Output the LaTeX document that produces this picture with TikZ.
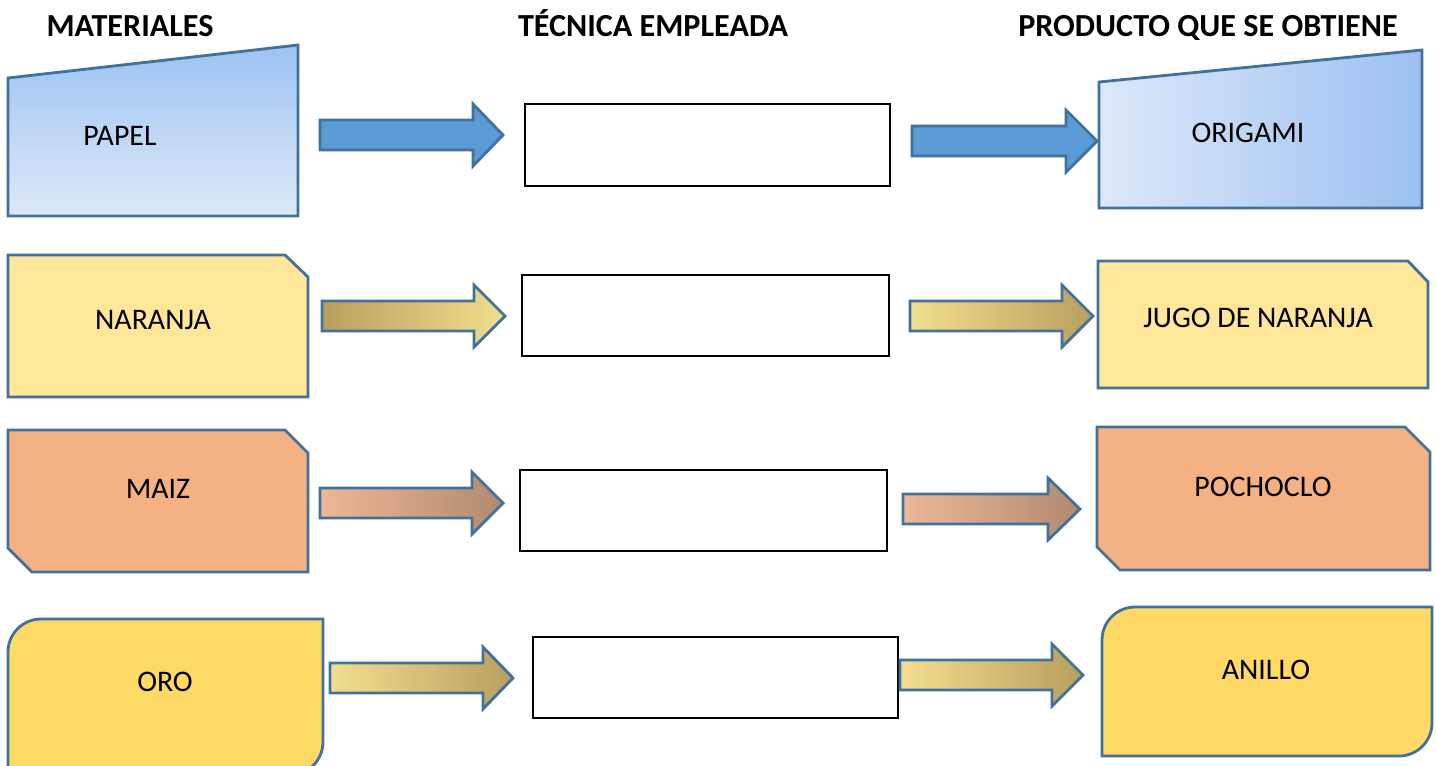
\documentclass[tikz,border=0pt]{standalone}
\usepackage{fontspec}
\setmainfont{Carlito}
\definecolor{bord}{HTML}{41719C}
\definecolor{blueA}{HTML}{5B9BD5}
\definecolor{blueTop}{HTML}{9DC3F2}
\definecolor{blueBot}{HTML}{DDE9F8}
\definecolor{blueLight}{HTML}{DCE8F9}
\definecolor{blueDark}{HTML}{9CC0F0}
\definecolor{ylight}{HTML}{FFE699}
\definecolor{peach}{HTML}{F4B183}
\definecolor{gold}{HTML}{FFD966}
\definecolor{gDark}{HTML}{B89F5E}
\definecolor{gLight}{HTML}{F2DE8E}
\definecolor{pLight}{HTML}{EDB896}
\definecolor{pDark}{HTML}{B08A70}
\newcommand{\fatarrow}[5][]{%
  \draw[arr,#1] (#2,#5-15) -- (#3,#5-15) -- (#3,#5-31) -- (#4,#5) -- (#3,#5+31) -- (#3,#5+15) -- (#2,#5+15) -- cycle;}
\begin{document}
\begin{tikzpicture}[x=0.02cm,y=-0.02cm,
  shapeline/.style={draw=bord, line width=1.6pt, line join=miter},
  lbl/.style={font=\fontsize{17}{20}\selectfont, text=black, inner sep=0},
  hdr/.style={font=\fontsize{18.3}{22}\selectfont\bfseries, text=black, inner sep=0, anchor=base},
  tbox/.style={draw=black, line width=1.2pt, fill=white, inner sep=0},
  arr/.style={draw=bord, line width=1.6pt, line join=miter}]
\useasboundingbox (0,0) rectangle (1436,765);

% headers
\node[hdr] (h1) at (130,36) {MATERIALES};
\node[hdr] (h2) at (653,36) {TÉCNICA EMPLEADA};
\node[hdr] (h3) at (1208,36) {PRODUCTO QUE SE OBTIENE};

% row 1
\draw[shapeline, top color=blueTop, bottom color=blueBot] (8,78) -- (298,45) -- (298,216) -- (8,216) -- cycle;
\node[lbl] (m1) at (120,136) {PAPEL};
\fatarrow[fill=blueA]{320}{473}{503}{135}
\node[tbox, minimum width=7.3cm, minimum height=1.64cm] (t1) at (707.5,145) {};
\fatarrow[fill=blueA]{912}{1066}{1097}{141}
\draw[shapeline, left color=blueLight, right color=blueDark] (1099,82) -- (1422,50) -- (1422,208) -- (1099,208) -- cycle;
\node[lbl] (p1) at (1248,133) {ORIGAMI};

% row 2
\draw[shapeline, fill=ylight] (8,255) -- (285,255) -- (308,277) -- (308,397) -- (8,397) -- cycle;
\node[lbl] (m2) at (153,320) {NARANJA};
\fatarrow[left color=gDark, right color=gLight]{322}{474}{505}{316}
\node[tbox, minimum width=7.34cm, minimum height=1.62cm] (t2) at (705.5,315.5) {};
\fatarrow[left color=gLight, right color=gDark]{910}{1062}{1093}{316}
\draw[shapeline, fill=ylight] (1098,261) -- (1408,261) -- (1428,282) -- (1428,388) -- (1098,388) -- cycle;
\node[lbl] (p2) at (1258,318) {JUGO DE NARANJA};

% row 3
\draw[shapeline, fill=peach] (8,430) -- (285,430) -- (308,453) -- (308,572) -- (32,572) -- (8,548) -- cycle;
\node[lbl] (m3) at (158,489) {MAIZ};
\fatarrow[left color=pLight, right color=pDark]{320}{472}{503}{503}
\node[tbox, minimum width=7.34cm, minimum height=1.62cm] (t3) at (703.5,510.5) {};
\fatarrow[left color=pLight, right color=pDark]{903}{1048}{1080}{509}
\draw[shapeline, fill=peach] (1097,427) -- (1405,427) -- (1430,452) -- (1430,570) -- (1120,570) -- (1097,547) -- cycle;
\node[lbl] (p3) at (1263,487) {POCHOCLO};

% row 4
\draw[shapeline, fill=gold] (8,790) -- (8,652) .. controls (8,633.8) and (22.8,619) .. (41,619) -- (323,619) -- (323,742) .. controls (323,760.2) and (308.2,775) .. (290,775) -- (8,775) -- cycle;
\node[lbl] (m4) at (165,682) {ORO};
\fatarrow[left color=gLight, right color=gDark]{330}{483}{513}{678}
\node[tbox, minimum width=7.3cm, minimum height=1.62cm] (t4) at (715.5,677.5) {};
\fatarrow[left color=gLight, right color=gDark]{900}{1052}{1083}{675}
\draw[shapeline, fill=gold] (1102,756) -- (1102,640) .. controls (1102,621.8) and (1116.8,607) .. (1135,607) -- (1432,607) -- (1432,723) .. controls (1432,741.2) and (1417.2,756) .. (1399,756) -- cycle;
\node[lbl] (p4) at (1266,670) {ANILLO};
\end{tikzpicture}
\end{document}
